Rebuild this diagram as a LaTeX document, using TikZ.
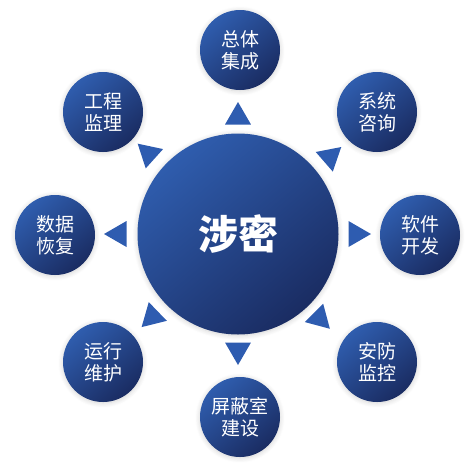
\documentclass[tikz,border=0pt]{standalone}
\usepackage{fontspec}
\newfontfamily\cjk{Noto Sans CJK SC}
\usetikzlibrary{shapes.geometric,shadows.blur,calc}
\definecolor{blueA}{HTML}{2F5DAE}
\definecolor{blueB}{HTML}{1A2C62}
\definecolor{triblue}{HTML}{2E5CB0}
\tikzset{
  ball/.style={circle, draw=none, inner sep=0pt, top color=blueA, bottom color=blueB, shading angle=40,
    blur shadow={shadow xshift=0pt, shadow yshift=-1pt, shadow opacity=18, shadow blur radius=5pt, shadow blur steps=10}},
  sat/.style={ball, minimum size=80pt, text=white, font=\cjk\fontsize{19pt}{22pt}\selectfont, align=center},
  hub/.style={ball, minimum size=201pt, text=white, font=\cjk\bfseries\fontsize{40pt}{44pt}\selectfont},
  tri/.style={regular polygon, regular polygon sides=3, fill=triblue, draw=none, minimum size=30pt, inner sep=0pt}
}
\begin{document}
\begin{tikzpicture}[x=1pt,y=1pt]
\useasboundingbox (0,0) rectangle (473,-467);
\node[hub] (C) at (238,-234) {涉密};
\node[sat] (n1) at (240,-50) {总体\\集成};
\node[sat] (n2) at (377,-112) {系统\\咨询};
\node[sat] (n3) at (420,-235) {软件\\开发};
\node[sat] (n4) at (377,-362) {安防\\监控};
\node[sat] (n5) at (240,-417) {屏蔽室\\建设};
\node[sat] (n6) at (103,-362) {运行\\维护};
\node[sat] (n7) at (55,-235) {数据\\恢复};
\node[sat] (n8) at (103,-112) {工程\\监理};
\node[tri, rotate=0] (t1) at ($(C.center)+(90:117)$) {};
\node[tri, rotate=-49] (t2) at ($(C.center)+(40:120)$) {};
\node[tri, rotate=-90] (t3) at ($(C.center)+(0:118)$) {};
\node[tri, rotate=-135] (t4) at ($(C.center)+(-46:117)$) {};
\node[tri, rotate=180] (t5) at ($(C.center)+(-90:116)$) {};
\node[tri, rotate=134] (t6) at ($(C.center)+(-136:119)$) {};
\node[tri, rotate=90] (t7) at ($(C.center)+(180:119)$) {};
\node[tri, rotate=48] (t8) at ($(C.center)+(138:120)$) {};
\end{tikzpicture}
\end{document}
